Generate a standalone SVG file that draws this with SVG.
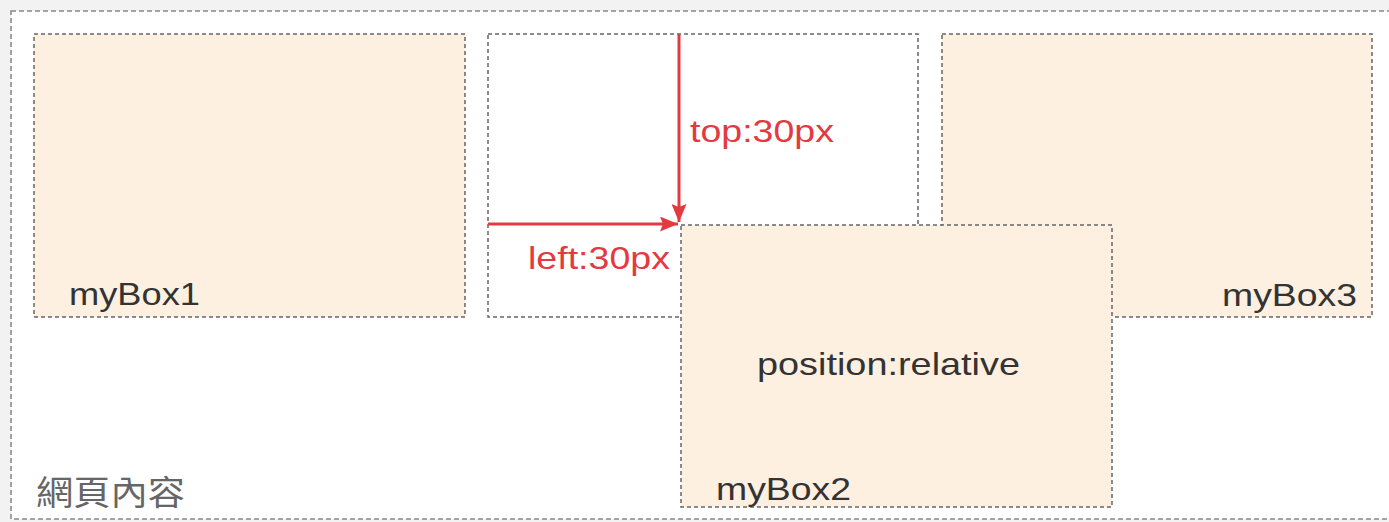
<svg xmlns="http://www.w3.org/2000/svg" width="1389" height="522" viewBox="0 0 1389 522">
<style>
.box{fill:#fdf0e1;stroke:#666666;stroke-width:1.5;stroke-dasharray:4 3}
.ghost{fill:#ffffff;stroke:#666666;stroke-width:1.5;stroke-dasharray:4 3}
.lbl{font-family:"Liberation Sans",Arial,sans-serif;font-size:32px;fill:#333333}
.red{font-family:"Liberation Sans",Arial,sans-serif;font-size:32px;fill:#e33a42}
.cjk{font-family:"Noto Sans CJK TC","Noto Sans CJK SC",sans-serif;font-size:34px;fill:#666666}
.arr{stroke:#e33a42;stroke-width:3;fill:none}
</style>
<defs>
<marker id="ah" viewBox="0 0 12 10" refX="12" refY="5" markerWidth="6.5" markerHeight="5" markerUnits="strokeWidth" orient="auto">
<path d="M0,0 L12,5 L0,10 L2,5 Z" fill="#e33a42"/>
</marker>
</defs>
<rect x="0" y="0" width="1389" height="522" fill="#f2f2f2"/>
<g id="page">
<rect x="11" y="11" width="1390" height="508" fill="#ffffff" stroke="#888888" stroke-width="1.5" stroke-dasharray="5 3"/>
<text class="cjk" x="36" y="505" textLength="149" lengthAdjust="spacingAndGlyphs">網頁內容</text>
</g>
<g id="myBox1">
<rect class="box" x="34" y="34" width="431" height="283"/>
<text class="lbl" x="69" y="305" textLength="131" lengthAdjust="spacingAndGlyphs">myBox1</text>
</g>
<g id="myBox2-original">
<rect class="ghost" x="488" y="34" width="430" height="283"/>
</g>
<g id="myBox3">
<rect class="box" x="942" y="34" width="430" height="283"/>
<text class="lbl" x="1222" y="306" textLength="135" lengthAdjust="spacingAndGlyphs">myBox3</text>
</g>
<g id="myBox2">
<rect class="box" x="681" y="225" width="431" height="282"/>
<text class="lbl" x="757" y="375" textLength="263" lengthAdjust="spacingAndGlyphs">position:relative</text>
<text class="lbl" x="716" y="500" textLength="135" lengthAdjust="spacingAndGlyphs">myBox2</text>
</g>
<g id="connectors">
<line class="arr" x1="679" y1="34" x2="679" y2="222" marker-end="url(#ah)"/>
<line class="arr" x1="488" y1="224" x2="678" y2="224" marker-end="url(#ah)"/>
<text class="red" x="690" y="142" textLength="144" lengthAdjust="spacingAndGlyphs">top:30px</text>
<text class="red" x="528" y="269" textLength="142" lengthAdjust="spacingAndGlyphs">left:30px</text>
</g>
</svg>
